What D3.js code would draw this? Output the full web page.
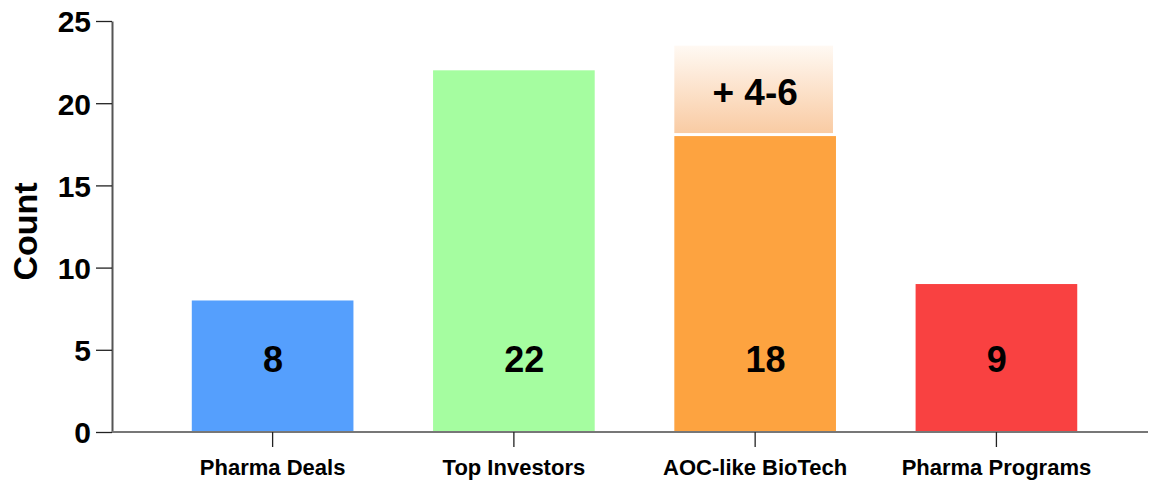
<!DOCTYPE html>
<html>
<head>
<meta charset="utf-8">
<script src="https://cdn.jsdelivr.net/npm/d3@7"></script>
<style>
  html, body { margin: 0; padding: 0; background: #fff; }
  svg { display: block; font-family: "Liberation Sans", Arial, sans-serif; font-weight: bold; }
</style>
</head>
<body>
<svg id="chart" width="1150" height="480"></svg>
<script>
// Counts per category
const categories = ["Pharma Deals", "Top Investors", "AOC-like BioTech", "Pharma Programs"];
const counts = [8, 22, 18, 9];
const barColors = ["#559ffd", "#a5fda0", "#fda340", "#f94141"];

// Projected additional AOC-like biotechs (range shown as a faded extension)
const projectedCategory = "AOC-like BioTech";
const projectedLabel = "+ 4-6";
const projectedTop = 23.5;

const yTicks = [0, 5, 10, 15, 20, 25];

const svg = d3.select("#chart");
const plotLeft = 112, plotRight = 1148, plotTop = 21, plotBottom = 432;

const x = d3.scaleBand()
  .domain(categories)
  .range([plotLeft, plotRight])
  .paddingInner(0.33)
  .paddingOuter(0.312)
  .align(0.53);

const y = d3.scaleLinear().domain([0, 25]).range([plotBottom, plotTop]);

// Gradient for the projected extension
const defs = svg.append("defs");
const grad = defs.append("linearGradient")
  .attr("id", "projGrad").attr("x1", 0).attr("y1", 0).attr("x2", 0).attr("y2", 1);
grad.append("stop").attr("offset", "0%").attr("stop-color", "#fff9f3");
grad.append("stop").attr("offset", "100%").attr("stop-color", "#f9cba3");

// Bars
svg.append("g").selectAll("rect")
  .data(categories)
  .join("rect")
  .attr("x", d => x(d))
  .attr("width", x.bandwidth())
  .attr("y", (d, i) => y(counts[i]))
  .attr("height", (d, i) => y(0) - y(counts[i]))
  .attr("fill", (d, i) => barColors[i]);

// Projected extension above the AOC-like bar
const pIdx = categories.indexOf(projectedCategory);
const gap = 3;
svg.append("rect")
  .attr("x", x(projectedCategory))
  .attr("width", x.bandwidth() - 3)
  .attr("y", y(projectedTop))
  .attr("height", y(counts[pIdx]) - gap - y(projectedTop))
  .attr("fill", "url(#projGrad)");

svg.append("text")
  .attr("x", x(projectedCategory) + x.bandwidth() / 2)
  .attr("y", (y(projectedTop) + y(counts[pIdx]) - gap) / 2 + 3)
  .attr("text-anchor", "middle")
  .attr("dominant-baseline", "central")
  .attr("font-size", 37)
  .attr("fill", "#000")
  .text(projectedLabel);

// Value labels inside bars (first digit sits on the bar centre)
svg.append("g").selectAll("text")
  .data(categories)
  .join("text")
  .attr("x", d => x(d) + x.bandwidth() / 2)
  .attr("dx", "-0.27em")
  .attr("y", y(4.4))
  .attr("text-anchor", "start")
  .attr("dominant-baseline", "central")
  .attr("font-size", 36)
  .attr("fill", "#000")
  .text((d, i) => counts[i]);

// Y axis
const yAxis = svg.append("g")
  .attr("transform", `translate(${plotLeft},0)`)
  .call(d3.axisLeft(y).tickValues(yTicks).tickSize(16).tickPadding(5).tickSizeOuter(0));
yAxis.select(".domain").attr("stroke", "#555").attr("stroke-width", 2);
yAxis.selectAll(".tick line").attr("stroke", "#222").attr("stroke-width", 1.3);
yAxis.selectAll(".tick text")
  .attr("font-size", 30).attr("font-weight", "bold").attr("fill", "#000")
  .attr("font-family", "Liberation Sans, Arial, sans-serif")
  .attr("dy", "0.36em");

// X axis
const xAxis = svg.append("g")
  .attr("transform", `translate(0,${plotBottom})`)
  .call(d3.axisBottom(x).tickSize(15).tickPadding(12).tickSizeOuter(0));
xAxis.select(".domain").attr("stroke", "#777").attr("stroke-width", 2)
  .attr("d", `M${plotLeft},0H${plotRight}`);
xAxis.selectAll(".tick line").attr("stroke", "#222").attr("stroke-width", 1.3);
xAxis.selectAll(".tick text")
  .attr("font-size", 22).attr("font-weight", "bold").attr("fill", "#000")
  .attr("font-family", "Liberation Sans, Arial, sans-serif");

// Y axis title
svg.append("text")
  .attr("transform", `translate(37,${(plotTop + plotBottom) / 2 + 5}) rotate(-90)`)
  .attr("text-anchor", "middle")
  .attr("font-size", 34)
  .attr("fill", "#000")
  .text("Count");
</script>
</body>
</html>
